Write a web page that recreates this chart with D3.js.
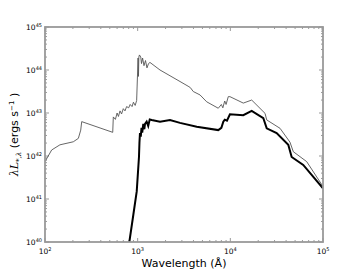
<!DOCTYPE html>
<html><head><meta charset="utf-8">
<script src="https://cdn.jsdelivr.net/npm/d3@7"></script>
<style>body{margin:0;background:#fff}svg{display:block}</style>
</head><body>
<script>
// Data (wavelength in Angstrom, luminance in erg/s)
const totalWave = [100,118,145,202,229,243,249,538,546,575,600,620,645,670,700,730,760,800,830,870,900,940,975,1010,1020,1030,1045,1080,1100,1130,1170,1215,1260,1310,1358,1742,2864,3500,3700,3980,4710,5560,7410,8000,8300,8700,9000,9500,9900,13800,17000,23700,24700,34400,44000,47800,66700,100000];
const totalLum  = [7.4e41,1.38e42,1.82e42,2.14e42,2.57e42,4.0e42,6.3e42,3.55e42,8.1e42,7.1e42,1.0e43,8.3e42,1.12e43,9.5e42,1.26e43,1.12e43,1.41e43,1.32e43,1.58e43,1.41e43,1.78e43,1.5e43,1.95e43,1.9e44,7.1e43,2.0e44,2.24e44,2.0e44,1.41e44,1.9e44,1.26e44,1.66e44,1.12e44,1.41e44,1.5e44,1.0e44,5.4e43,4.2e43,3.9e43,3.16e43,2.63e43,1.82e43,1.29e43,1.58e43,1.32e43,1.9e43,1.58e43,2.4e43,2.4e43,1.7e43,2.0e43,9.8e42,6.9e42,4.4e42,2.1e42,1.26e42,7.4e41,1.95e41];
const starWave  = [813,898,977,1033,1045,1059,1080,1100,1120,1150,1180,1200,1250,1300,1350,1416,1742,2234,2864,4340,7410,8000,8400,8700,9200,9900,13800,17000,22700,24700,31600,42200,45900,61200,100000];
const starLum   = [1e40,4.3e40,1.5e41,9.5e41,2.0e42,3.4e42,2.8e42,4.5e42,3.5e42,5.6e42,4.2e42,5.6e42,6.3e42,5.0e42,7.1e42,6.9e42,6.3e42,6.9e42,5.9e42,4.8e42,4.0e42,4.5e42,6.3e42,7.0e42,6.6e42,9.3e42,8.9e42,1.12e43,7.6e42,4.4e42,3.4e42,1.82e42,9.5e41,6.2e41,1.78e41];
const xTicks = [1e2,1e3,1e4,1e5];
const yTicks = [1e40,1e41,1e42,1e43,1e44,1e45];

const W=360,H=270, m={l:45,r:37,t:27,b:28};
const svg=d3.select("body").append("svg").attr("width",W).attr("height",H);
const x=d3.scaleLog().domain([1e2,1e5]).range([m.l,W-m.r]);
const y=d3.scaleLog().domain([1e40,1e45]).range([H-m.b,m.t]);

svg.append("clipPath").attr("id","c").append("rect")
  .attr("x",m.l).attr("y",m.t).attr("width",W-m.l-m.r).attr("height",H-m.t-m.b);

const line=d3.line().x(d=>x(d[0])).y(d=>y(d[1]));
const g=svg.append("g").attr("clip-path","url(#c)");
g.append("path").datum(totalWave.map((w,i)=>[w,totalLum[i]]))
  .attr("d",line).attr("fill","none").attr("stroke","#555").attr("stroke-width",0.9);
g.append("path").datum(starWave.map((w,i)=>[w,starLum[i]]))
  .attr("d",line).attr("fill","none").attr("stroke","#000").attr("stroke-width",2);

// ticks
const minorX=[],minorY=[];
for(let e=2;e<5;e++)for(let k=2;k<10;k++)minorX.push(k*10**e);
for(let e=40;e<45;e++)for(let k=2;k<10;k++)minorY.push(k*10**e);
const tk=svg.append("g").attr("stroke","#555").attr("stroke-width",0.6);
const x0=m.l,x1=W-m.r,y0=H-m.b,y1=m.t;
xTicks.forEach(v=>{tk.append("line").attr("x1",x(v)).attr("x2",x(v)).attr("y1",y0).attr("y2",y0-4);
  tk.append("line").attr("x1",x(v)).attr("x2",x(v)).attr("y1",y1).attr("y2",y1+4);});
minorX.forEach(v=>{tk.append("line").attr("x1",x(v)).attr("x2",x(v)).attr("y1",y0).attr("y2",y0-2);
  tk.append("line").attr("x1",x(v)).attr("x2",x(v)).attr("y1",y1).attr("y2",y1+2);});
yTicks.forEach(v=>{tk.append("line").attr("y1",y(v)).attr("y2",y(v)).attr("x1",x0).attr("x2",x0+4);
  tk.append("line").attr("y1",y(v)).attr("y2",y(v)).attr("x1",x1).attr("x2",x1-4);});
minorY.forEach(v=>{tk.append("line").attr("y1",y(v)).attr("y2",y(v)).attr("x1",x0).attr("x2",x0+2);
  tk.append("line").attr("y1",y(v)).attr("y2",y(v)).attr("x1",x1).attr("x2",x1-2);});

svg.append("rect").attr("x",x0).attr("y",y1).attr("width",x1-x0).attr("height",y0-y1)
  .attr("fill","none").attr("stroke","#999").attr("stroke-width",1.8);

const font="DejaVu Sans, sans-serif";
xTicks.forEach(v=>{const t=svg.append("text").attr("x",x(v)).attr("y",y0+12)
  .attr("text-anchor","middle").attr("font-family",font).attr("font-size",7.5).attr("fill","#000");
  t.append("tspan").text("10");
  t.append("tspan").attr("dy",-3.5).attr("font-size",5).text(Math.round(Math.log10(v)));});
yTicks.forEach(v=>{const t=svg.append("text").attr("x",x0-3).attr("y",y(v)+3)
  .attr("text-anchor","end").attr("font-family",font).attr("font-size",7.5).attr("fill","#000");
  t.append("tspan").text("10");
  t.append("tspan").attr("dy",-3.5).attr("font-size",5).text(Math.round(Math.log10(v)));});

svg.append("text").attr("x",(x0+x1)/2).attr("y",H-3).attr("text-anchor","middle")
  .attr("font-family",font).attr("font-size",11).text("Wavelength (Å)");

const yl=svg.append("text").attr("transform",`translate(18,${(y0+y1)/2}) rotate(-90)`)
  .attr("text-anchor","middle").attr("font-family",font).attr("font-size",11);
yl.append("tspan").attr("font-family","DejaVu Serif, serif").attr("font-style","italic").text("λL");
yl.append("tspan").attr("dy",3).attr("font-size",7).attr("font-family","DejaVu Serif, serif").attr("font-style","italic").text("*,λ");
yl.append("tspan").attr("dy",-3).text(" (ergs s");
yl.append("tspan").attr("dy",-4).attr("font-size",7).text("−1");
yl.append("tspan").attr("dy",4).text(" )");
</script>
</body></html>
